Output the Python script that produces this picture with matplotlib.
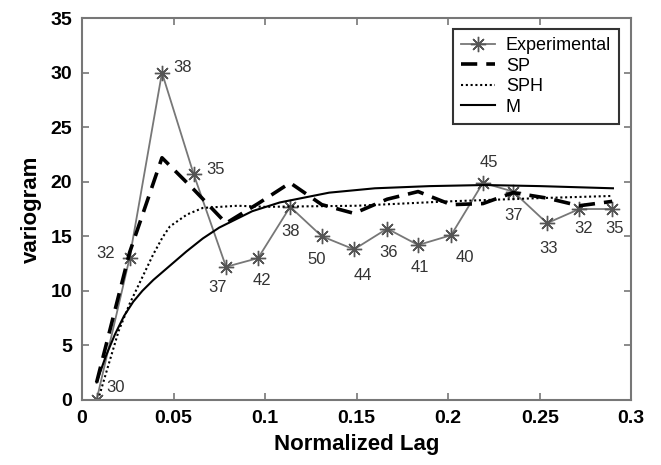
import numpy as np
import matplotlib.pyplot as plt

plt.rcParams['font.family'] = ['Liberation Sans', 'DejaVu Sans']

# experimental variogram (lag, value, number of pairs)
lag = [0.008, 0.026, 0.0437, 0.061, 0.0787, 0.0962, 0.1137, 0.131, 0.1486,
       0.1667, 0.1836, 0.2016, 0.219, 0.2355, 0.254, 0.2716, 0.2896]
gamma_exp = [0.0, 13.0, 30.0, 20.7, 12.2, 13.0, 17.7, 15.0, 13.8,
             15.7, 14.2, 15.1, 19.9, 19.1, 16.2, 17.5, 17.5]
pairs = ['30', '32', '38', '35', '37', '42', '38', '50', '44',
         '36', '41', '40', '45', '37', '33', '32', '35']

# SP model, evaluated at the lags
gamma_sp = [1.6, 13.5, 22.2, 19.3, 16.2, 18.0, 19.9, 17.9, 17.1,
            18.4, 19.1, 17.9, 18.0, 19.0, 18.5, 17.8, 18.2]

# SPH model curve
sph_x = [0.0095, 0.015, 0.020, 0.026, 0.0317, 0.0388, 0.044, 0.048, 0.0574,
         0.066, 0.085, 0.100, 0.150, 0.200, 0.250, 0.290]
sph_y = [0.4, 3.5, 6.3, 8.8, 10.8, 13.3, 14.9, 15.9, 17.0,
         17.6, 17.8, 17.7, 17.8, 18.2, 18.5, 18.7]

# M model curve
m_x = [0.008, 0.013, 0.018, 0.023, 0.028, 0.033, 0.039, 0.048, 0.057, 0.066,
       0.075, 0.093, 0.108, 0.135, 0.160, 0.190, 0.220, 0.250, 0.290]
m_y = [1.6, 4.0, 6.0, 7.7, 9.0, 10.0, 11.0, 12.3, 13.6, 14.8,
       15.8, 17.3, 18.1, 19.0, 19.4, 19.6, 19.7, 19.6, 19.4]

# label offsets in points
offs = [(14, 9), (-17, 3), (15, 4), (16, 3), (-6, -15), (3, -16), (0, -18),
        (-4, -17), (6, -19), (1, -17), (1, -16), (10, -16), (4, 15),
        (0, -17), (1, -18), (3, -14), (2, -14)]

fig = plt.figure(figsize=(6.61, 4.65), dpi=100)
ax = fig.add_axes([0.124, 0.140, 0.831, 0.821])

ax.plot(lag, gamma_exp, color='#777777', lw=1.3, marker=(8, 2, 0),
        ms=11, mec='#555555', mew=1.0, label='Experimental')
ax.plot(lag, gamma_sp, color='black', lw=2.6, ls=(0, (4.5, 2.5)), label='SP')
ax.plot(sph_x, sph_y, color='black', lw=1.5, ls=(0, (1, 1.3)), label='SPH')
ax.plot(m_x, m_y, color='black', lw=1.5, label='M')

for x, y, s, o in zip(lag, gamma_exp, pairs, offs):
    ax.annotate(s, (x, y), xytext=o, textcoords='offset points',
                ha='center', va='center', fontsize=12, color='#333333')

ax.set_xlim(0, 0.3)
ax.set_ylim(0, 35)
ax.set_xticks(np.arange(0, 0.31, 0.05))
ax.set_xticklabels(['0', '0.05', '0.1', '0.15', '0.2', '0.25', '0.3'])
ax.set_yticks(np.arange(0, 36, 5))
ax.tick_params(direction='in', top=True, right=True, length=5, width=1.2,
               color='#777777', labelsize=14, pad=7)
for lab in ax.get_xticklabels() + ax.get_yticklabels():
    lab.set_fontweight('bold')
for sp in ax.spines.values():
    sp.set_color('#777777')
    sp.set_linewidth(1.5)

ax.set_xlabel('Normalized Lag', fontsize=16, fontweight='bold', labelpad=5)
ax.set_ylabel('variogram', fontsize=16, fontweight='bold', labelpad=6)

leg = ax.legend(loc='upper right', bbox_to_anchor=(0.978, 0.972), fontsize=13,
                frameon=True, fancybox=False, handlelength=1.9,
                labelspacing=0.2, borderpad=0.45, handletextpad=0.6,
                borderaxespad=0)
leg.get_frame().set_edgecolor('black')
leg.get_frame().set_linewidth(1.5)

fig.savefig('out.png', dpi=100)
